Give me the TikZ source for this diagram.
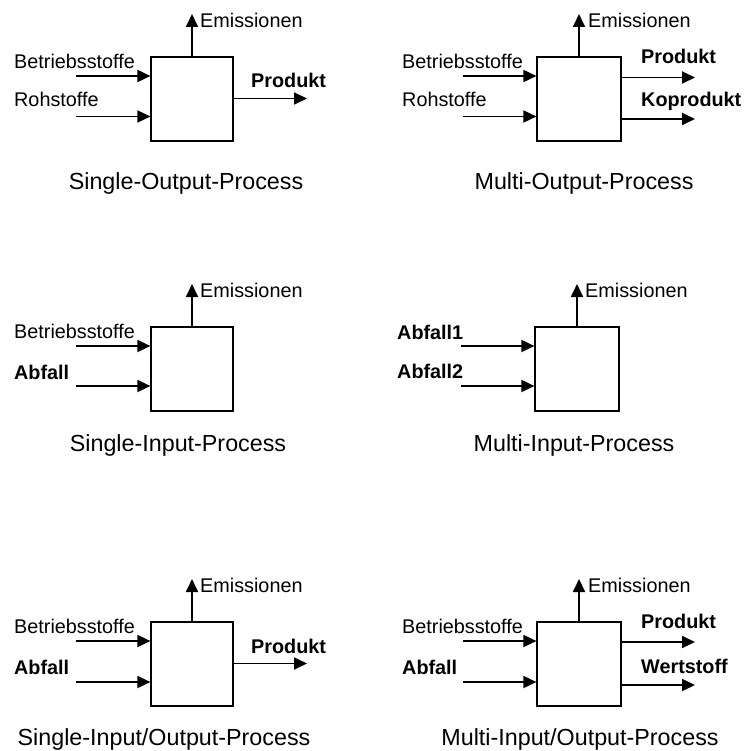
\documentclass[tikz,border=0pt]{standalone}
\usepackage{fontspec}
\setmainfont{Liberation Sans}
\usetikzlibrary{arrows.meta}
\begin{document}
\begin{tikzpicture}[x=1pt,y=-1pt,
  procbox/.style={draw, line width=1.2pt, minimum width=82pt, minimum height=84pt, inner sep=0pt},
  flow/.style={line width=1.8pt, -{Triangle[length=13pt,width=12pt]}},
  lbl/.style={anchor=base west, inner sep=0pt, font=\fontsize{19.8pt}{24pt}\selectfont},
  blbl/.style={lbl, font=\fontsize{19.8pt}{24pt}\selectfont\bfseries},
  caption/.style={anchor=base, inner sep=0pt, font=\fontsize{23.3pt}{28pt}\selectfont}]
\useasboundingbox (0,0) rectangle (743,751);

% ---------- Single-Output-Process ----------
\node[procbox] (p1) at (192,99) {};
\coordinate (p1em) at (192,14);
\draw[flow] (p1.north) -- (p1em);
\node[lbl] (p1eml) at (200,27.5) {Emissionen};
\coordinate (p1a) at (76,76);
\coordinate (p1b) at (76,116.5);
\draw[flow] (p1a) -- (p1a -| p1.west);
\draw[flow] (p1b) -- (p1b -| p1.west);
\node[lbl] (p1al) at (14,68.5) {Betriebsstoffe};
\node[lbl] (p1bl) at (14,107) {Rohstoffe};
\coordinate (p1o) at (307,98.5);
\draw[flow] (p1o -| p1.east) -- (p1o);
\node[blbl] (p1ol) at (251,88) {Produkt};
\node[caption] (p1c) at (186,190) {Single-Output-Process};

% ---------- Multi-Output-Process ----------
\node[procbox, minimum width=84pt] (p2) at (579,99) {};
\coordinate (p2em) at (579,14);
\draw[flow] (p2.north) -- (p2em);
\node[lbl] (p2eml) at (588,27.5) {Emissionen};
\coordinate (p2a) at (463,76);
\coordinate (p2b) at (463,116.5);
\draw[flow] (p2a) -- (p2a -| p2.west);
\draw[flow] (p2b) -- (p2b -| p2.west);
\node[lbl] (p2al) at (402,68.5) {Betriebsstoffe};
\node[lbl] (p2bl) at (402,107) {Rohstoffe};
\coordinate (p2o) at (695,77.5);
\coordinate (p2p) at (695,119);
\draw[flow] (p2o -| p2.east) -- (p2o);
\draw[flow] (p2p -| p2.east) -- (p2p);
\node[blbl] (p2ol) at (641,63.7) {Produkt};
\node[blbl] (p2pl) at (641,107) {Koprodukt};
\node[caption] (p2c) at (584,190) {Multi-Output-Process};

% ---------- Single-Input-Process ----------
\node[procbox] (p3) at (192,369) {};
\coordinate (p3em) at (192,284);
\draw[flow] (p3.north) -- (p3em);
\node[lbl] (p3eml) at (200,297.5) {Emissionen};
\coordinate (p3a) at (76,346);
\coordinate (p3b) at (76,386);
\draw[flow] (p3a) -- (p3a -| p3.west);
\draw[flow] (p3b) -- (p3b -| p3.west);
\node[lbl] (p3al) at (14,338) {Betriebsstoffe};
\node[blbl] (p3bl) at (14,379.5) {Abfall};
\node[caption] (p3c) at (178,451) {Single-Input-Process};

% ---------- Multi-Input-Process ----------
\node[procbox, minimum width=84pt] (p4) at (577,369) {};
\coordinate (p4em) at (577,284);
\draw[flow] (p4.north) -- (p4em);
\node[lbl] (p4eml) at (585,297.5) {Emissionen};
\coordinate (p4a) at (461,346);
\coordinate (p4b) at (461,386);
\draw[flow] (p4a) -- (p4a -| p4.west);
\draw[flow] (p4b) -- (p4b -| p4.west);
\node[blbl] (p4al) at (397,339) {Abfall1};
\node[blbl] (p4bl) at (397,378.5) {Abfall2};
\node[caption] (p4c) at (574,451) {Multi-Input-Process};

% ---------- Single-Input/Output-Process ----------
\node[procbox] (p5) at (192,664) {};
\coordinate (p5em) at (192,579);
\draw[flow] (p5.north) -- (p5em);
\node[lbl] (p5eml) at (200,592.5) {Emissionen};
\coordinate (p5a) at (76,641);
\coordinate (p5b) at (76,682);
\draw[flow] (p5a) -- (p5a -| p5.west);
\draw[flow] (p5b) -- (p5b -| p5.west);
\node[lbl] (p5al) at (14,633) {Betriebsstoffe};
\node[blbl] (p5bl) at (14,674.3) {Abfall};
\coordinate (p5o) at (307,663.5);
\draw[flow] (p5o -| p5.east) -- (p5o);
\node[blbl] (p5ol) at (251,653) {Produkt};
\node[caption] (p5c) at (164,745) {Single-Input/Output-Process};

% ---------- Multi-Input/Output-Process ----------
\node[procbox, minimum width=84pt] (p6) at (579,664) {};
\coordinate (p6em) at (579,579);
\draw[flow] (p6.north) -- (p6em);
\node[lbl] (p6eml) at (588,592.5) {Emissionen};
\coordinate (p6a) at (463,641);
\coordinate (p6b) at (463,682);
\draw[flow] (p6a) -- (p6a -| p6.west);
\draw[flow] (p6b) -- (p6b -| p6.west);
\node[lbl] (p6al) at (402,633) {Betriebsstoffe};
\node[blbl] (p6bl) at (402,674.3) {Abfall};
\coordinate (p6o) at (695,642);
\coordinate (p6p) at (695,685);
\draw[flow] (p6o -| p6.east) -- (p6o);
\draw[flow] (p6p -| p6.east) -- (p6p);
\node[blbl] (p6ol) at (641,628.7) {Produkt};
\node[blbl] (p6pl) at (641,673.7) {Wertstoff};
\node[caption] (p6c) at (580,745) {Multi-Input/Output-Process};
\end{tikzpicture}
\end{document}
